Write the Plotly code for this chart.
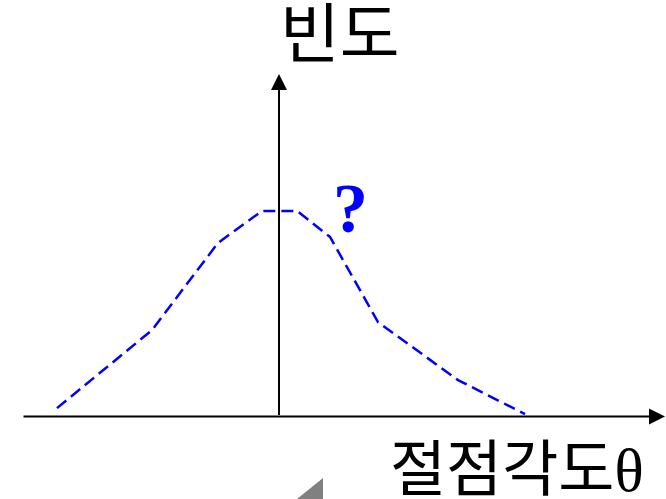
import plotly.graph_objects as go

# Data (angle relative to vertical axis, frequency)
theta = [-22.2, -12.7, -6.1, -1.7, 1.8, 5.1, 9.9, 17.9, 24.6]
freq = [4.2, 43.2, 86.8, 102.8, 102.8, 89.8, 47.2, 18.2, 1.2]

x_axis_start, x_axis_end = -25.7, 38.6
y_axis_end = 171.2

y_label = "빈도"
x_label = "절점각도<span style='font-family:\"Liberation Serif\"'>θ</span>"
question = "?"

fig = go.Figure()
fig.add_trace(go.Scatter(
    x=theta, y=freq, mode="lines",
    line=dict(color="#0000FF", width=2.5, dash="12px,6px"),
    hoverinfo="skip", showlegend=False,
))

# axes arrows
fig.add_annotation(x=x_axis_end, y=0, ax=x_axis_start, ay=0, xref="x", yref="y",
                   axref="x", ayref="y", showarrow=True, arrowhead=2, arrowsize=1.6,
                   arrowwidth=2, arrowcolor="black", text="")
fig.add_annotation(x=0, y=y_axis_end, ax=0, ay=0, xref="x", yref="y",
                   axref="x", ayref="y", showarrow=True, arrowhead=2, arrowsize=1.6,
                   arrowwidth=2, arrowcolor="black", text="")

fig.add_annotation(x=6.1, y=194, xref="x", yref="y", text=y_label, showarrow=False,
                   font=dict(family="Noto Sans CJK KR", size=65, color="black"),
                   xanchor="center", yanchor="middle")
fig.add_annotation(x=10.9, y=-24.0, xref="x", yref="y", text=x_label, showarrow=False,
                   font=dict(family="Noto Sans CJK KR", size=61, color="black"),
                   xanchor="left", yanchor="middle")
fig.add_annotation(x=7.1, y=104.0, xref="x", yref="y", text="<b>" + question + "</b>",
                   showarrow=False,
                   font=dict(family="Liberation Serif", size=70, color="#0000FF"),
                   xanchor="center", yanchor="middle")

# gray triangle fragment at bottom edge
fig.add_shape(type="path", xref="paper", yref="paper",
              path="M 0.4459 0 L 0.4850 0.0421 L 0.4850 0 Z",
              fillcolor="#808080", line=dict(width=0))

fig.update_layout(
    width=666, height=499, margin=dict(l=0, r=0, t=0, b=0),
    paper_bgcolor="white", plot_bgcolor="white",
    xaxis=dict(range=[-27.9, 38.7], visible=False, fixedrange=True),
    yaxis=dict(range=[-41.25, 208.25], visible=False, fixedrange=True),
)
fig.write_html("out.html", config={"displayModeBar": False},
               post_script="document.body.style.margin='0';")
